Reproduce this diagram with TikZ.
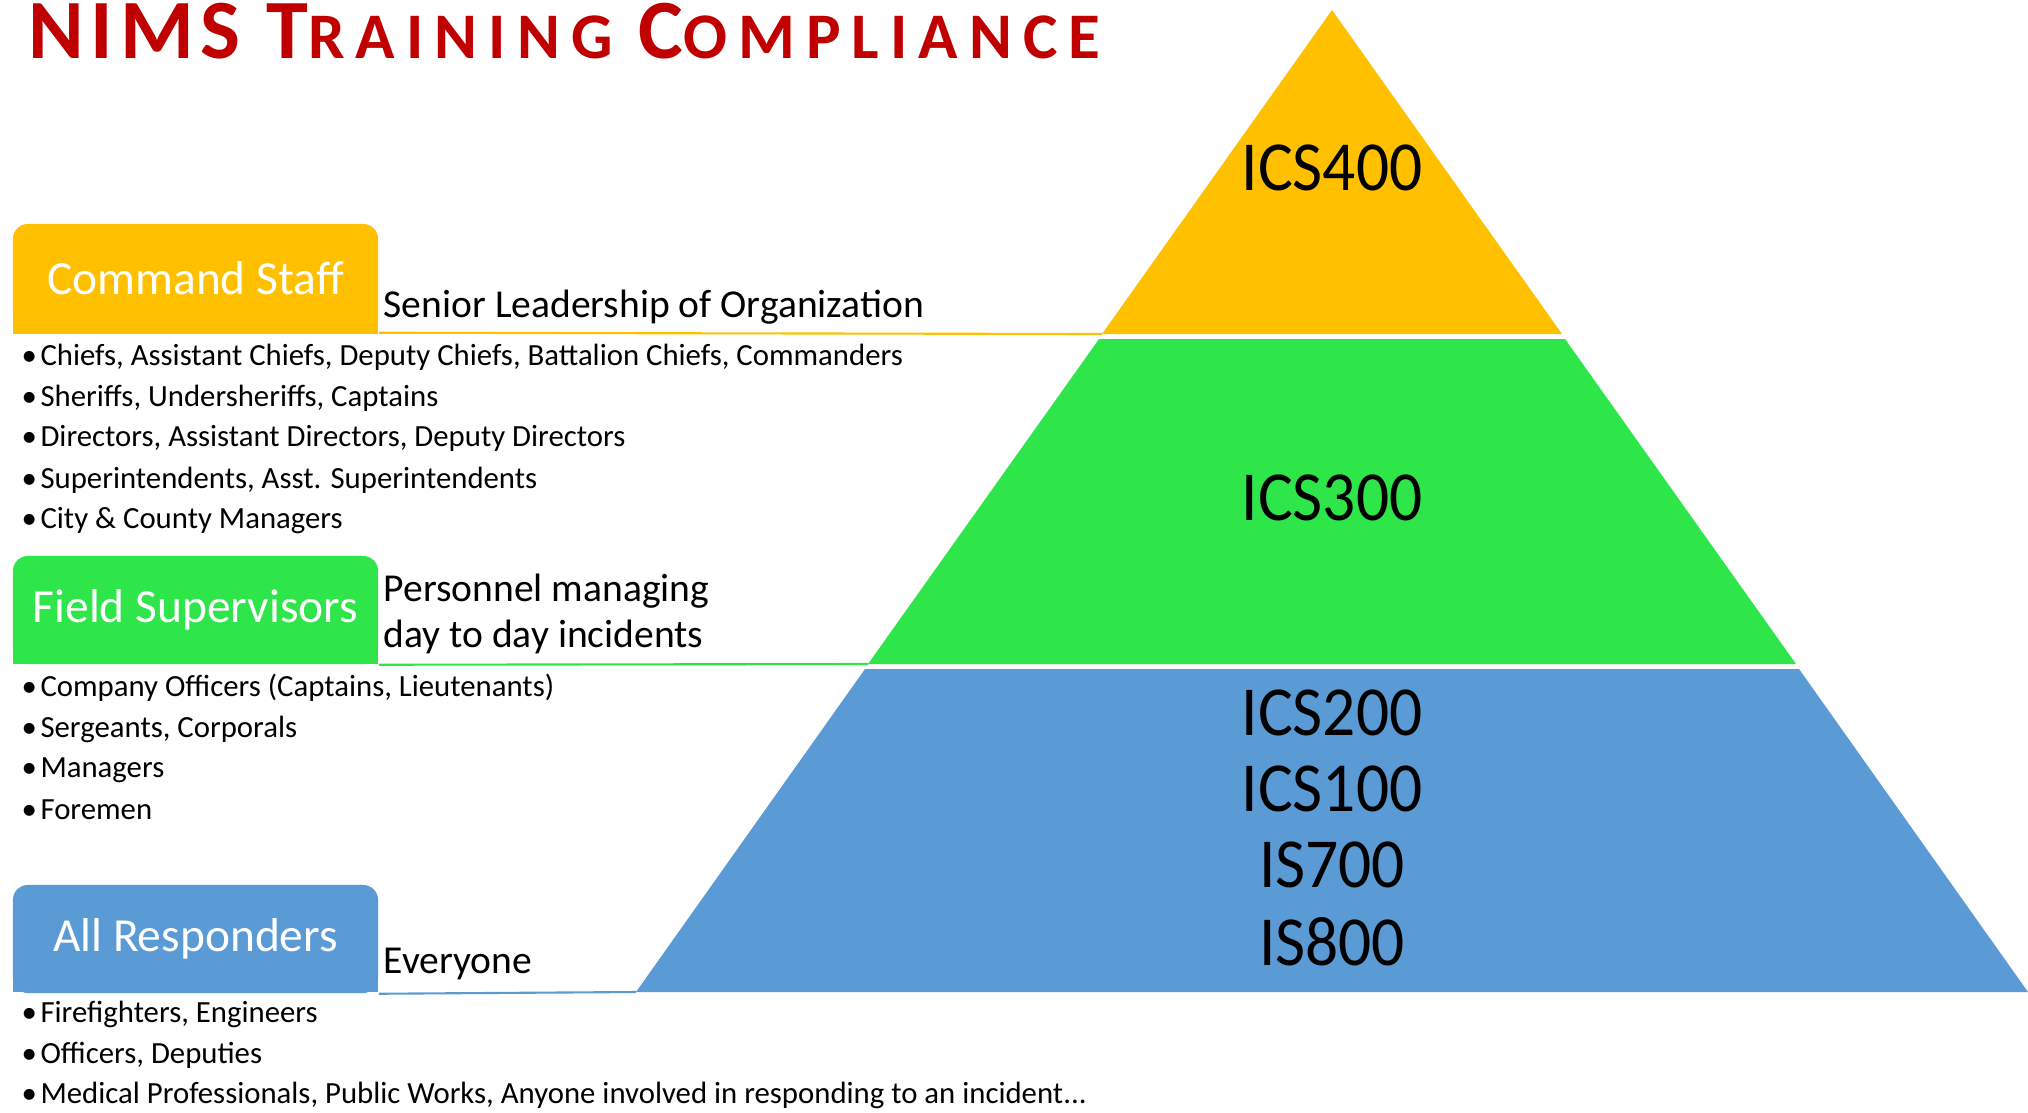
\documentclass[tikz,border=0pt]{standalone}
\usepackage{fontspec}
\setmainfont{Carlito}
\usepackage{graphicx}
\usepackage{tikz}
\usetikzlibrary{positioning}
\usepackage{xcolor}

\definecolor{gold}{HTML}{FFC000}
\definecolor{lime}{HTML}{2EE64A}
\definecolor{steel}{HTML}{5B9BD5}
\definecolor{titlered}{HTML}{C00000}

\newcommand{\narrow}[1]{\scalebox{0.93}[1]{#1}}
\newcommand{\smc}[1]{{\fontsize{18.5}{18}\selectfont\addfontfeature{LetterSpace=17}#1}}

\begin{document}
\begin{tikzpicture}[
            x = 0.01cm, y = -0.01cm, % pixel grid
            tab/.style = {rounded corners = 0.15cm, minimum width = 3.65cm,
                          minimum height = 1.08cm, inner sep = 0pt,
                          text = white, font = \fontsize{13.5}{15}\selectfont},
            desc/.style = {anchor = base west, inner sep = 0pt,
                           font = \fontsize{11.25}{13}\selectfont},
            item/.style = {anchor = base west, inner sep = 0pt,
                           font = \fontsize{8.75}{10}\selectfont},
            ics/.style = {inner sep = 0pt, font = \fontsize{20}{22}\selectfont},
            rule/.style = {line width = 0.6pt}
        ]

        \useasboundingbox (0,0) rectangle (2028,1112);

        % Titolo
        \node[anchor = base west, inner sep = 0pt, text = titlered,
              font = \bfseries\fontsize{24}{24}\selectfont\addfontfeature{LetterSpace=8}] (title) at (28,58)
              {NIMS T\smc{RAINING} C\smc{OMPLIANCE}};

        % Piramide
        \coordinate (apex) at (1332,10);
        \coordinate (y1l) at (1102,334);  \coordinate (y1r) at (1562,334);
        \coordinate (g0l) at (1099,339);  \coordinate (g0r) at (1565,339);
        \coordinate (g1l) at (868,664);   \coordinate (g1r) at (1796,664);
        \coordinate (b0l) at (865,669);   \coordinate (b0r) at (1799,669);
        \coordinate (b1l) at (636,992);   \coordinate (b1r) at (2028,992);

        \fill[gold]  (apex) -- (y1r) -- (y1l) -- cycle;
        \fill[lime]  (g0l) -- (g0r) -- (g1r) -- (g1l) -- cycle;
        \fill[steel] (b0l) -- (b0r) -- (b1r) -- (b1l) -- cycle;

        \node[ics] (ics400) at (1332,168) {\narrow{ICS400}};
        \node[ics] (ics300) at (1332,498) {\narrow{ICS300}};
        \node[ics] (ics200) at (1332,713) {\narrow{ICS200}};
        \node[ics] (ics100) at (1332,789) {\narrow{ICS100}};
        \node[ics] (is700)  at (1332,865) {\narrow{IS700}};
        \node[ics] (is800)  at (1332,942) {\narrow{IS800}};

        % Command Staff
        \fill[gold] (13,290) rectangle (378,334);
        \node[tab, fill = gold] (cs) at (195.5,278) {Command Staff};
        \draw[rule, gold] (cs.south east) -- (y1l);
        \node[desc] (csd) at (383,317) {Senior Leadership of Organization};
        \node[item] (cs1) at (21,365) {•\kern1pt Chiefs, Assistant Chiefs, Deputy Chiefs, Battalion Chiefs, Commanders};
        \node[item] (cs2) at (21,406) {•\kern1pt Sheriffs, Undersheriffs, Captains};
        \node[item] (cs3) at (21,446) {•\kern1pt Directors, Assistant Directors, Deputy Directors};
        \node[item] (cs4) at (21,488) {•\kern1pt Superintendents, Asst. Superintendents};
        \node[item] (cs5) at (21,528) {•\kern1pt City \& County Managers};

        % Field Supervisors
        \fill[lime] (13,620) rectangle (378,664);
        \node[tab, fill = lime] (fs) at (195.5,610) {Field Supervisors};
        \draw[rule, lime] (fs.south east) -- (g1l);
        \node[desc] (fsd1) at (383,601) {Personnel managing};
        \node[desc] (fsd2) at (383,647) {day to day incidents};
        \node[item] (fs1) at (21,696) {•\kern1pt Company Officers (Captains, Lieutenants)};
        \node[item] (fs2) at (21,737) {•\kern1pt Sergeants, Corporals};
        \node[item] (fs3) at (21,777) {•\kern1pt Managers};
        \node[item] (fs4) at (21,819) {•\kern1pt Foremen};

        % All Responders
        \fill[steel] (13,948) rectangle (378,992);
        \node[tab, fill = steel] (ar) at (195.5,939) {All Responders};
        \draw[rule, steel] (ar.south east) -- (b1l);
        \node[desc] (ard) at (383,973) {Everyone};
        \node[item] (ar1) at (21,1022) {•\kern1pt Firefighters, Engineers};
        \node[item] (ar2) at (21,1063) {•\kern1pt Officers, Deputies};
        \node[item] (ar3) at (21,1103) {•\kern1pt Medical Professionals, Public Works, Anyone involved in responding to an incident...};

\end{tikzpicture}
\end{document}
